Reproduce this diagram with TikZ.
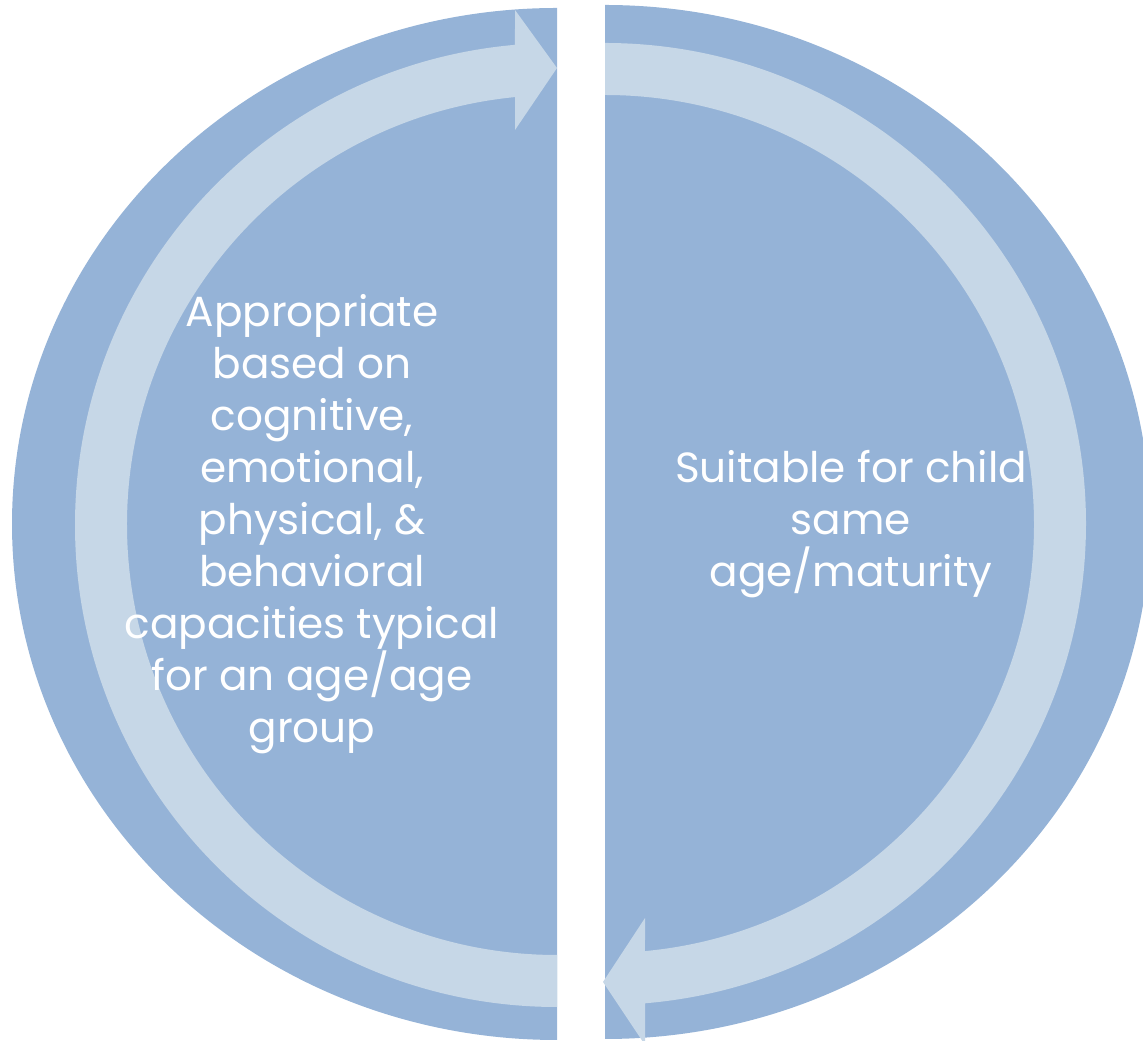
\documentclass[tikz,border=0pt]{standalone}
\usepackage{fontspec}
\setmainfont{Poppins}
\definecolor{halfblue}{HTML}{95B3D7}
\definecolor{arrowblue}{HTML}{C6D7E7}
\tikzset{
  half/.style={fill=halfblue},
  bandarrow/.style={fill=arrowblue},
  label/.style={text=white,align=center,inner sep=0pt,font=\fontsize{24}{29.6}\selectfont}
}
\begin{document}
\begin{tikzpicture}[x=0.02cm,y=0.02cm]
\clip (0,0) rectangle (1143,1041);
\fill[half] (557,1033) arc[start angle=90,end angle=270,x radius=545,y radius=516] -- cycle;
\fill[half] (605,1036) arc[start angle=90,end angle=-90,x radius=545,y radius=517] -- cycle;
\fill[bandarrow] (557,34) arc[start angle=270,end angle=95,radius=482] -- (515,1031) -- (557,973) -- (515,911)
  -- ([shift={(557,516)}]95.6:430) arc[start angle=95.6,end angle=270,radius=430] -- cycle;
\fill[bandarrow] (605,998) arc[start angle=90,end angle=-85.2,radius=481] -- (645,-4) -- (603,59) -- (645,123)
  -- ([shift={(605,517)}]-84.65:429) arc[start angle=-84.65,end angle=90,radius=429] -- cycle;
\node[label] (textL) at (312,517) {Appropriate\\based on\\cognitive,\\emotional,\\physical, \&\\behavioral\\capacities typical\\for an age/age\\group};
\node[label] (textR) at (851,517) {Suitable for child\\same\\age/maturity};
\end{tikzpicture}
\end{document}
